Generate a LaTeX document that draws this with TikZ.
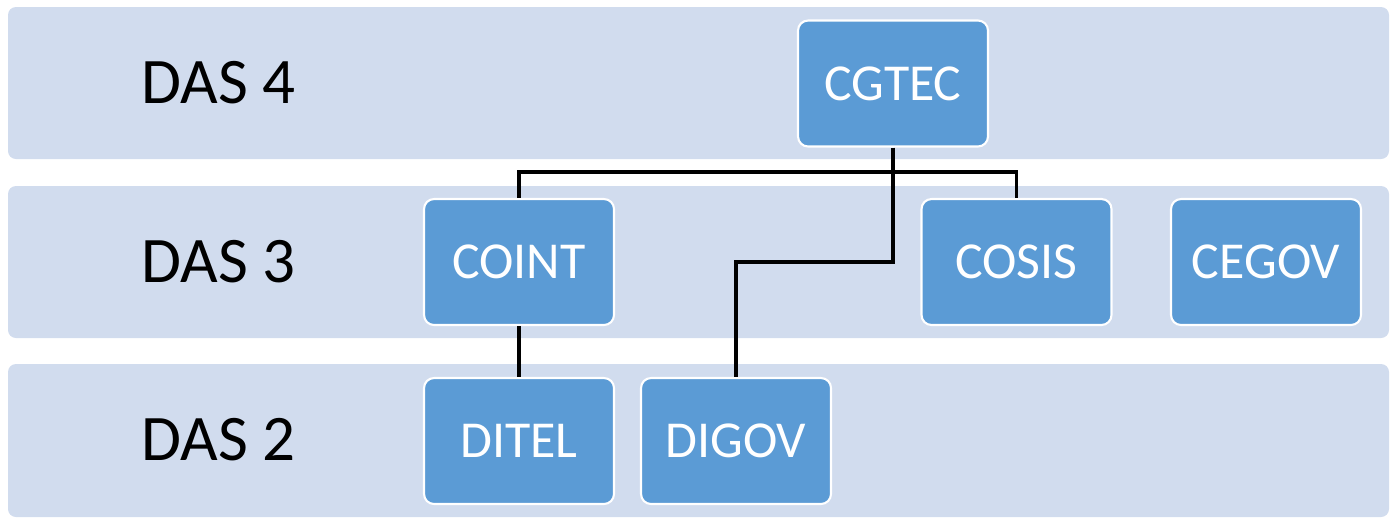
\documentclass[tikz,border=0pt]{standalone}
\usepackage{fontspec}
\setmainfont{Carlito}
\usetikzlibrary{positioning}
\definecolor{bandblue}{HTML}{D1DCEE}
\definecolor{boxblue}{HTML}{5B9BD5}
\tikzset{
  band/.style={fill=bandblue, rounded corners=0.16cm},
  unit/.style={draw=white, line width=1.2pt, fill=boxblue, rounded corners=0.2cm,
    minimum width=3.8cm, minimum height=2.52cm, text=white,
    font=\fontsize{29.5}{32}\selectfont},
  level/.style={anchor=base west, inner sep=0pt, font=\fontsize{37}{40}\selectfont},
  conn/.style={line width=2pt}
}
\begin{document}
\begin{tikzpicture}[x=0.02cm, y=-0.02cm]
     \useasboundingbox (0,0) rectangle (1398,529);
     % bands
     \fill[band] (8,7) rectangle (1389,159);
     \fill[band] (8,186) rectangle (1389,338);
     \fill[band] (8,364) rectangle (1389,517);
     \node[level] (das4) at (141,103) {DAS 4};
     \node[level] (das3) at (141,282) {DAS 3};
     \node[level] (das2) at (141,460) {DAS 2};
     % units
     \node[unit] (cgtec) at (893,83.5) {CGTEC};
     \node[unit] (coint) at (519,262) {COINT};
     \node[unit] (cosis) at (1016.5,262) {COSIS};
     \node[unit] (cegov) at (1266,262) {CEGOV};
     \node[unit] (ditel) at (519,441) {DITEL};
     \node[unit] (digov) at (736,441) {DIGOV};
     % connectors
     \coordinate (bus) at (893,172);
     \coordinate (bend) at (893,262);
     \draw[conn] (cgtec.south) -- (bend) -| (digov.north);
     \draw[conn] (coint.north) |- (bus) -| (cosis.north);
     \draw[conn] (coint.south) -- (ditel.north);
\end{tikzpicture}
\end{document}
